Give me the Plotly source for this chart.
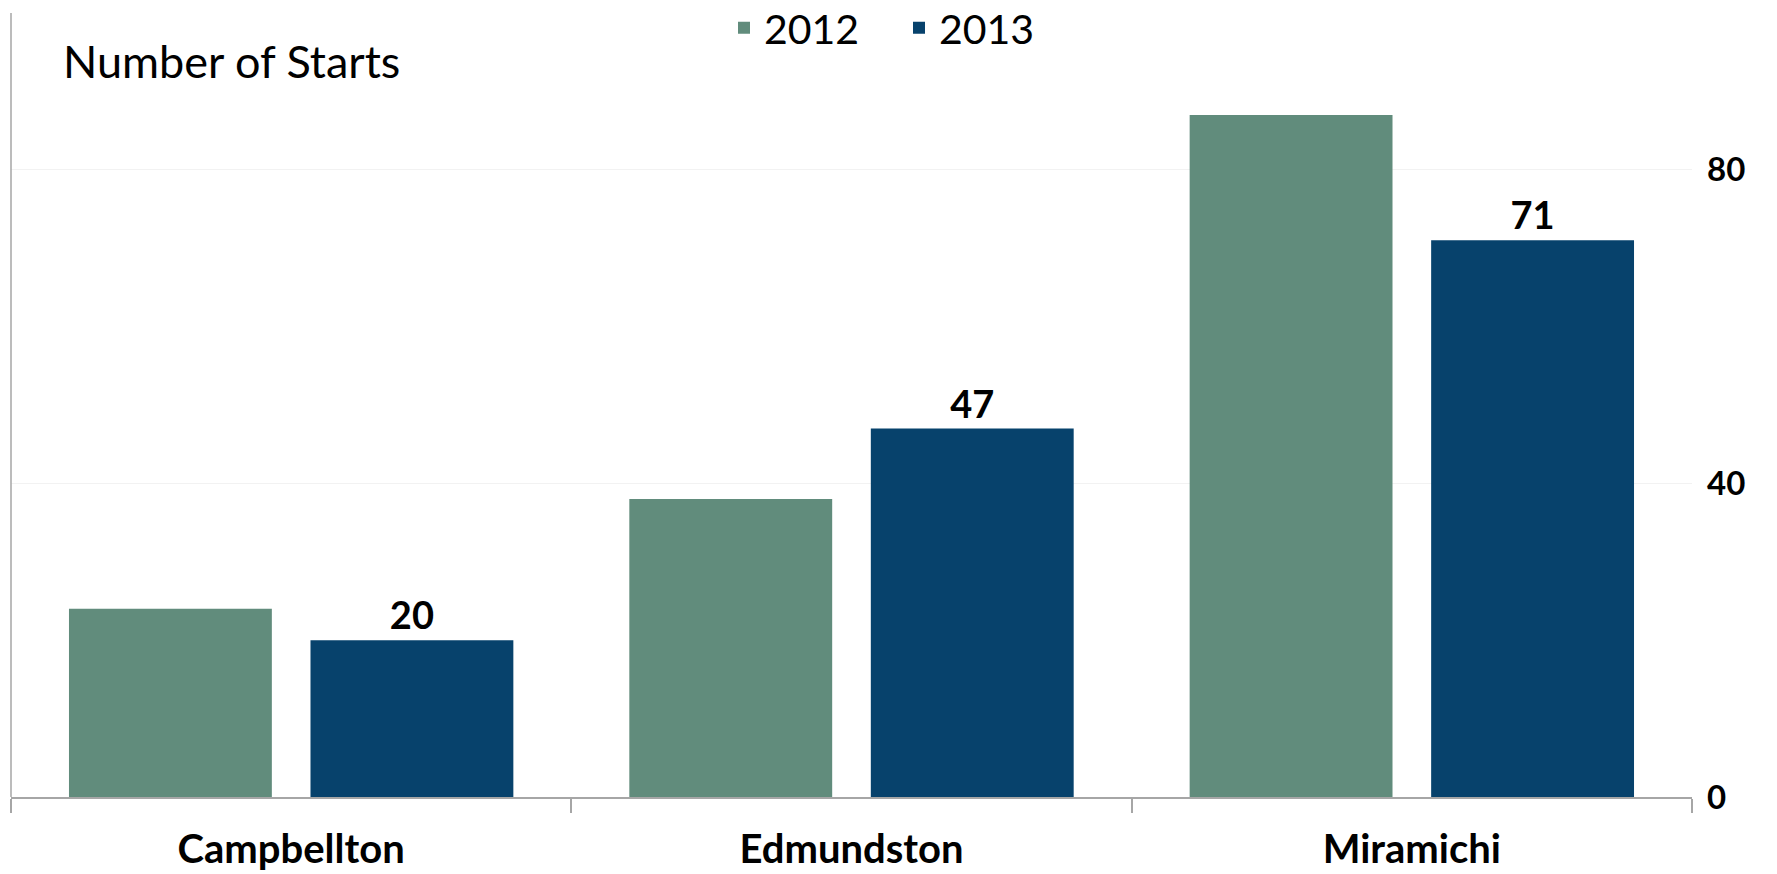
import plotly.graph_objects as go

categories = ["Campbellton", "Edmundston", "Miramichi"]
starts_2012 = [24, 38, 87]
starts_2013 = [20, 47, 71]
series_names = ["2012", "2013"]
y_tick_vals = [0, 40, 80]

FONT = "Lato"

fig = go.Figure()
fig.add_trace(go.Bar(
    x=categories, y=starts_2012, name=series_names[0],
    marker=dict(color="#618c7c", line=dict(width=0)),
))
fig.add_trace(go.Bar(
    x=categories, y=starts_2013, name=series_names[1],
    marker=dict(color="#07426c", line=dict(width=0)),
    text=[str(v) for v in starts_2013], textposition="outside",
    textfont=dict(family=FONT, size=38, color="#000000", weight="bold"),
    cliponaxis=False,
))

fig.update_layout(
    width=1777, height=874,
    margin=dict(l=11, r=85, t=13, b=77, autoexpand=False),
    paper_bgcolor="white", plot_bgcolor="white",
    barmode="group", bargap=0.138, bargroupgap=0.16,
    font=dict(family=FONT, color="#000000"),
    title=dict(
        text="Number of Starts", xref="container", yref="container",
        x=63 / 1777, y=1 - 62 / 874, xanchor="left", yanchor="middle",
        font=dict(family=FONT, size=45, color="#000000"),
        automargin=False,
    ),
    legend=dict(
        orientation="h", xref="container", yref="container",
        x=724 / 1777, y=1 - 28 / 874, xanchor="left", yanchor="middle",
        font=dict(family=FONT, size=41, color="#000000"),
        bgcolor="rgba(0,0,0,0)", itemwidth=30, entrywidth=130,
    ),
    showlegend=True,
    xaxis=dict(
        type="category", showline=True, linecolor="#a6a6a6", linewidth=1.5,
        ticks="outside", tickson="boundaries", ticklen=14, tickcolor="#a6a6a6",
        tickwidth=1.5, ticklabelstandoff=16, automargin=False,
        tickfont=dict(family=FONT, size=40, color="#000000", weight="bold"),
        showgrid=False,
    ),
    yaxis=dict(
        side="right", range=[0, 100], tickvals=y_tick_vals,
        showgrid=True, gridcolor="#f2f2f2", gridwidth=1,
        zeroline=False, showline=False, ticks="", automargin=False,
        ticklabelstandoff=14,
        tickfont=dict(family=FONT, size=33, color="#000000", weight="bold"),
    ),
    shapes=[dict(type="line", xref="paper", yref="paper", x0=0, x1=0, y0=0, y1=1,
                 line=dict(color="#a6a6a6", width=1.5))],
)

fig.write_html(
    "out.html",
    config={"displayModeBar": False},
    post_script="document.body.style.margin='0';document.body.style.overflow='hidden';",
)
